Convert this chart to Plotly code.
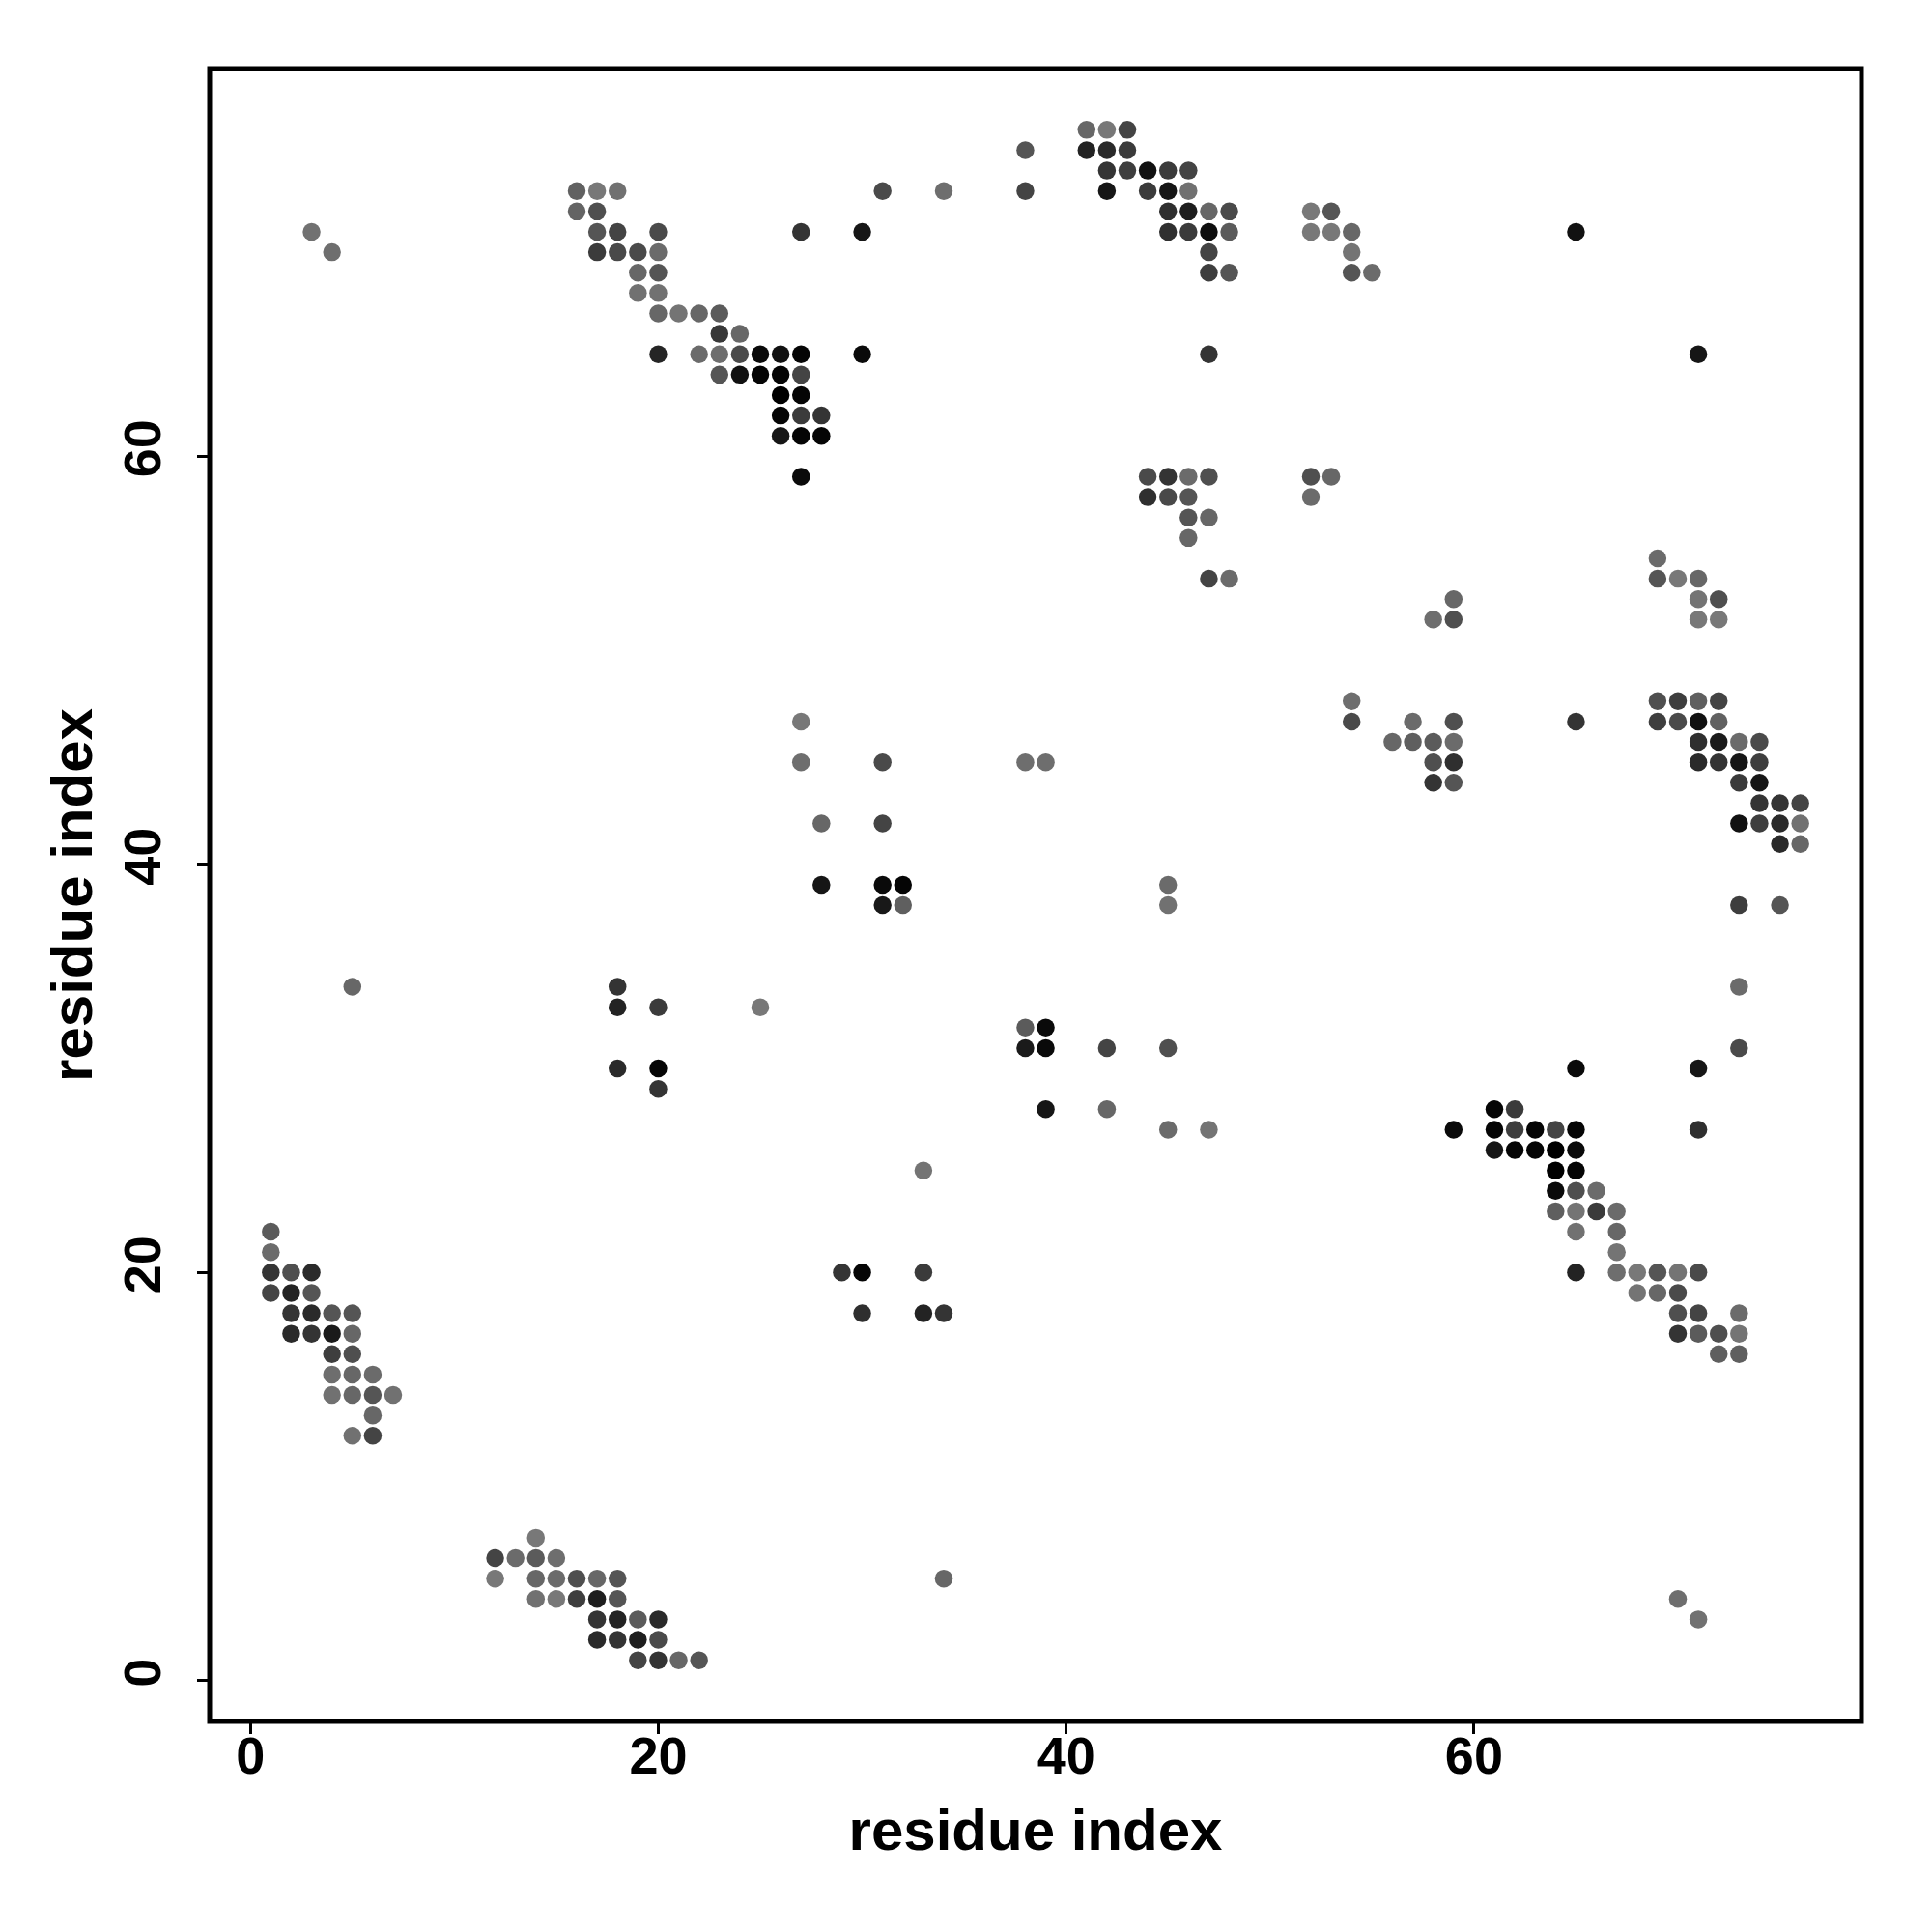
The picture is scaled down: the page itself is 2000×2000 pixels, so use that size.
import plotly.graph_objects as go

# Contact map: residue index pairs (i, j) and contact score (0 = weak / light grey, 1 = strong / black)
res_i = [
    41, 42, 43,                                  # j=76
    38, 41, 42, 43,                              # j=75
    42, 43, 44, 45, 46,                          # j=74
    16, 17, 18, 31, 34, 38, 42, 44, 45, 46,      # j=73
    16, 17, 45, 46, 47, 48, 52, 53,              # j=72
    3, 17, 18, 20, 27, 30, 45, 46, 47, 48, 52, 53, 54, 65,   # j=71
    4, 17, 18, 19, 20, 47, 54,                   # j=70
    19, 20, 47, 48, 54, 55,                      # j=69
    19, 20,                                      # j=68
    20, 21, 22, 23,                              # j=67
    23, 24,                                      # j=66
    20, 22, 23, 24, 25, 26, 27, 30, 47, 71,      # j=65
    23, 24, 25, 26, 27,                          # j=64
    26, 27,                                      # j=63
    26, 27, 28,                                  # j=62
    26, 27, 28,                                  # j=61
    27, 44, 45, 46, 47, 52, 53,                  # j=59
    44, 45, 46, 52,                              # j=58
    46, 47,                                      # j=57
    46,                                          # j=56
    69,                                          # j=55
    47, 48, 69, 70, 71,                          # j=54
    59, 71, 72,                                  # j=53
    58, 59, 71, 72,                              # j=52
    54, 69, 70, 71, 72,                          # j=48
    27, 54, 57, 59, 65, 69, 70, 71, 72,          # j=47
    56, 57, 58, 59, 71, 72, 73, 74,              # j=46
    27, 31, 38, 39, 58, 59, 71, 72, 73, 74,      # j=45
    58, 59, 73, 74,                              # j=44
    74, 75, 76,                                  # j=43
    28, 31, 73, 74, 75, 76,                      # j=42
    75, 76,                                      # j=41
    28, 31, 32, 45,                              # j=39
    31, 32, 45, 73, 75,                          # j=38
    5, 18, 73,                                   # j=34
    18, 20, 25,                                  # j=33
    38, 39,                                      # j=32
    38, 39, 42, 45, 73,                          # j=31
    18, 20, 65, 71,                              # j=30
    20,                                          # j=29
    39, 42, 61, 62,                              # j=28
    45, 47, 59, 61, 62, 63, 64, 65, 71,          # j=27
    61, 62, 63, 64, 65,                          # j=26
    33, 64, 65,                                  # j=25
    64, 65, 66,                                  # j=24
    64, 65, 66, 67,                              # j=23
    1, 65, 67,                                   # j=22
    1, 67,                                       # j=21
    1, 2, 3, 29, 30, 33, 65, 67, 68, 69, 70, 71, # j=20
    1, 2, 3, 68, 69, 70,                         # j=19
    2, 3, 4, 5, 30, 33, 34, 70, 71, 73,          # j=18
    2, 3, 4, 5, 70, 71, 72, 73,                  # j=17
    4, 5, 72, 73,                                # j=16
    4, 5, 6,                                     # j=15
    4, 5, 6, 7,                                  # j=14
    6,                                           # j=13
    5, 6,                                        # j=12
    14,                                          # j=7
    12, 13, 14, 15,                              # j=6
    12, 14, 15, 16, 17, 18, 34,                  # j=5
    14, 15, 16, 17, 18, 70,                      # j=4
    17, 18, 19, 20, 71,                          # j=3
    17, 18, 19, 20,                              # j=2
    19, 20, 21, 22,                              # j=1
]

res_j = (
    [76] * 3 + [75] * 4 + [74] * 5 + [73] * 10 + [72] * 8 + [71] * 14 + [70] * 7 +
    [69] * 6 + [68] * 2 + [67] * 4 + [66] * 2 + [65] * 10 + [64] * 5 + [63] * 2 +
    [62] * 3 + [61] * 3 + [59] * 7 + [58] * 4 + [57] * 2 + [56] * 1 + [55] * 1 +
    [54] * 5 + [53] * 3 + [52] * 4 + [48] * 5 + [47] * 9 + [46] * 8 + [45] * 10 +
    [44] * 4 + [43] * 3 + [42] * 6 + [41] * 2 + [39] * 4 + [38] * 5 + [34] * 3 +
    [33] * 3 + [32] * 2 + [31] * 5 + [30] * 4 + [29] * 1 + [28] * 4 + [27] * 9 +
    [26] * 5 + [25] * 3 + [24] * 3 + [23] * 4 + [22] * 3 + [21] * 2 + [20] * 12 +
    [19] * 6 + [18] * 10 + [17] * 8 + [16] * 4 + [15] * 3 + [14] * 4 + [13] * 1 +
    [12] * 2 + [7] * 1 + [6] * 4 + [5] * 7 + [4] * 6 + [3] * 5 + [2] * 4 + [1] * 4
)

score = [
    0.14, 0.00, 0.43,
    0.29, 0.71, 0.65, 0.51,
    0.57, 0.48, 0.86, 0.51, 0.43,
    0.19, 0.00, 0.06, 0.38, 0.08, 0.43, 0.82, 0.51, 0.82, 0.06,
    0.17, 0.34, 0.61, 0.75, 0.14, 0.38, 0.00, 0.29,
    0.06, 0.29, 0.43, 0.38, 0.57, 0.82, 0.61, 0.51, 0.88, 0.24, 0.00, 0.00, 0.14, 0.86,
    0.08, 0.51, 0.39, 0.38, 0.11, 0.43, 0.03,
    0.14, 0.29, 0.48, 0.29, 0.29, 0.11,
    0.06, 0.06,
    0.14, 0.03, 0.14, 0.24,
    0.53, 0.14,
    0.69, 0.11, 0.08, 0.38, 0.92, 0.86, 0.96, 0.92, 0.57, 0.82,
    0.29, 0.86, 0.96, 0.96, 0.43,
    1.00, 0.96,
    0.96, 0.51, 0.57,
    0.82, 0.96, 0.96,
    0.92, 0.38, 0.57, 0.11, 0.34, 0.34, 0.14,
    0.61, 0.39, 0.29, 0.11,
    0.29, 0.14,
    0.14,
    0.11,
    0.43, 0.11, 0.29, 0.00, 0.14,
    0.14, 0.03, 0.34,
    0.08, 0.34, 0.00, 0.00,
    0.08, 0.34, 0.48, 0.21, 0.43,
    0.00, 0.38, 0.11, 0.34, 0.57, 0.48, 0.38, 0.86, 0.19,
    0.14, 0.21, 0.24, 0.11, 0.61, 0.78, 0.11, 0.38,
    0.08, 0.38, 0.08, 0.08, 0.34, 0.61, 0.65, 0.57, 0.82, 0.48,
    0.57, 0.29, 0.51, 0.82,
    0.57, 0.57, 0.43,
    0.14, 0.43, 0.86, 0.48, 0.65, 0.06,
    0.65, 0.14,
    0.82, 0.92, 0.96, 0.11,
    0.80, 0.21, 0.06, 0.48, 0.29,
    0.14, 0.57, 0.11,
    0.71, 0.51, 0.00,
    0.24, 0.92,
    0.78, 0.92, 0.43, 0.34, 0.38,
    0.65, 0.96, 0.92, 0.82,
    0.57,
    0.82, 0.14, 0.96, 0.51,
    0.11, 0.03, 0.92, 0.96, 0.48, 0.96, 0.43, 0.96, 0.61,
    0.82, 0.96, 0.96, 1.00, 0.92,
    0.03, 1.00, 0.96,
    0.92, 0.34, 0.11,
    0.21, 0.03, 0.51, 0.11,
    0.24, 0.06, 0.14,
    0.11, 0.03,
    0.57, 0.34, 0.65, 0.57, 0.96, 0.51, 0.71, 0.08, 0.00, 0.29, 0.03, 0.38,
    0.43, 0.71, 0.29, 0.03, 0.14, 0.38,
    0.57, 0.65, 0.29, 0.29, 0.61, 0.71, 0.57, 0.34, 0.43, 0.11,
    0.65, 0.57, 0.78, 0.14, 0.57, 0.24, 0.34, 0.03,
    0.48, 0.34, 0.21, 0.21,
    0.08, 0.14, 0.11,
    0.06, 0.14, 0.29, 0.06,
    0.14,
    0.06, 0.43,
    0.00,
    0.43, 0.11, 0.24, 0.08,
    0.00, 0.14, 0.11, 0.34, 0.14, 0.29, 0.14,
    0.06, 0.00, 0.48, 0.75, 0.29, 0.08,
    0.57, 0.71, 0.24, 0.65, 0.06,
    0.65, 0.57, 0.75, 0.38,
    0.43, 0.57, 0.14, 0.29,
]

tick_vals = [0, 20, 40, 60]
axis_title = "residue index"

assert len(res_i) == len(res_j) == len(score)

fig = go.Figure(
    go.Scatter(
        x=res_i,
        y=res_j,
        mode="markers",
        marker=dict(
            size=18.5,
            color=score,
            colorscale=[[0, "#787878"], [1, "#000000"]],
            cmin=0,
            cmax=1,
            showscale=False,
            line=dict(width=0),
        ),
        hoverinfo="x+y",
    )
)

lo, hi = 1, 76
pad = 0.04 * (hi - lo)
rng = [lo - pad, hi + pad]

axis_common = dict(
    range=rng,
    tickvals=tick_vals,
    ticktext=[str(v) for v in tick_vals],
    showgrid=False,
    zeroline=False,
    showline=False,
    ticks="outside",
    ticklen=12,
    tickwidth=3,
    tickcolor="black",
    tickfont=dict(family="Liberation Sans", size=54, color="black", weight="bold"),
)

title_font = dict(family="Liberation Sans", size=60, color="black", weight="bold")

fig.update_layout(
    width=2000,
    height=2000,
    margin=dict(l=209, r=81, t=63, b=226),
    paper_bgcolor="white",
    plot_bgcolor="white",
    showlegend=False,
    xaxis=dict(
        **axis_common,
        ticklabelstandoff=-24,
        title=dict(text=axis_title, standoff=27, font=title_font),
    ),
    yaxis=dict(
        **axis_common,
        tickangle=-90,
        ticklabelstandoff=16,
        title=dict(text=axis_title, standoff=2, font=title_font),
    ),
    shapes=[
        dict(type="rect", xref="paper", yref="paper", x0=0, x1=1, y0=0, y1=1,
             line=dict(color="black", width=5), fillcolor="rgba(0,0,0,0)", layer="above"),
    ],
)

fig.write_html("out.html")
